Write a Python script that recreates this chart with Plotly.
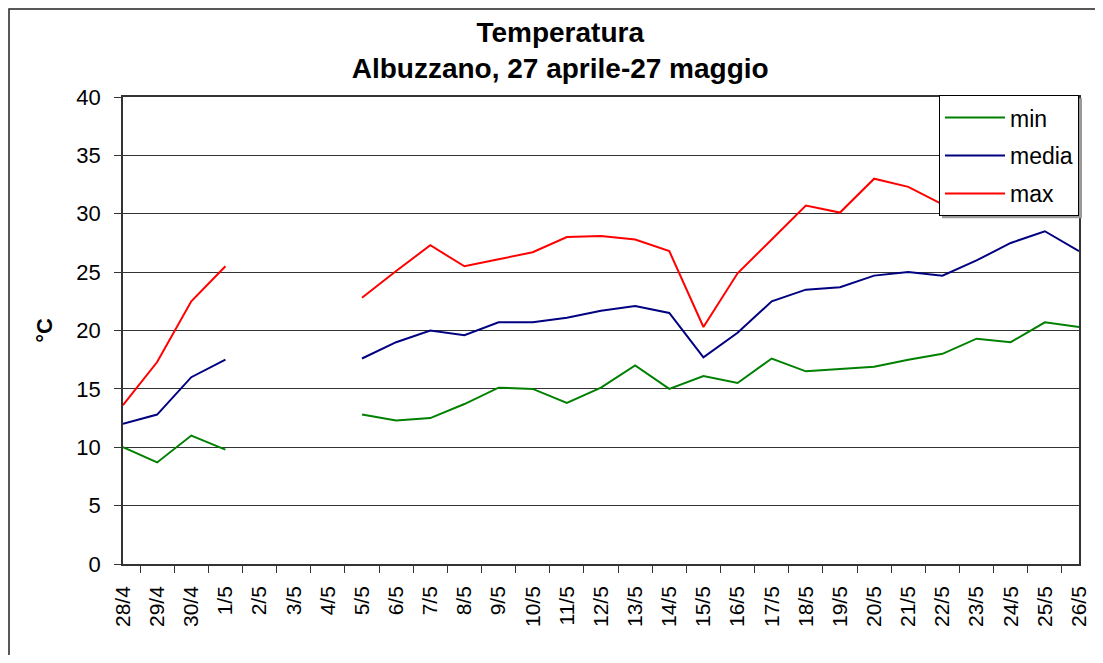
import plotly.graph_objects as go

# Daily temperatures, Albuzzano (°C); 2/5-4/5 missing
giorni = ["28/4", "29/4", "30/4", "1/5", "2/5", "3/5", "4/5", "5/5", "6/5", "7/5",
          "8/5", "9/5", "10/5", "11/5", "12/5", "13/5", "14/5", "15/5", "16/5", "17/5",
          "18/5", "19/5", "20/5", "21/5", "22/5", "23/5", "24/5", "25/5", "26/5"]

t_min = [10.0, 8.7, 11.0, 9.8, None, None, None, 12.8, 12.3, 12.5,
         13.7, 15.1, 15.0, 13.8, 15.1, 17.0, 15.0, 16.1, 15.5, 17.6,
         16.5, 16.7, 16.9, 17.5, 18.0, 19.3, 19.0, 20.7, 20.3]
t_media = [12.0, 12.8, 16.0, 17.5, None, None, None, 17.6, 19.0, 20.0,
           19.6, 20.7, 20.7, 21.1, 21.7, 22.1, 21.5, 17.7, 19.8, 22.5,
           23.5, 23.7, 24.7, 25.0, 24.7, 26.0, 27.5, 28.5, 26.8]
t_max = [13.6, 17.3, 22.5, 25.5, None, None, None, 22.8, 25.1, 27.3,
         25.5, 26.1, 26.7, 28.0, 28.1, 27.8, 26.8, 20.3, 24.9, 27.8,
         30.7, 30.1, 33.0, 32.3, 30.8, 33.3, 34.0, 35.5, 33.0]

FONT = "Liberation Sans, Arial, sans-serif"

# page body has an 8px margin, so the figure is ~1087x647 at (8, 8)
PLOT_W, PLOT_H = 956, 467
M_L, M_T = 115, 89
LEG_TOP = 1.004
LEG_W, LEG_H = 140, 120

fig = go.Figure()
for nome, valori, colore in [("min", t_min, "#008000"),
                             ("media", t_media, "#000080"),
                             ("max", t_max, "#FF0000")]:
    fig.add_trace(go.Scatter(
        x=giorni, y=valori, name=nome, mode="lines",
        line=dict(color=colore, width=2),
        connectgaps=False, legendgroup=nome,
    ))

# outer chart frame
fig.add_shape(type="rect", xref="paper", yref="paper",
              x0=(1 - M_L) / PLOT_W, x1=1.03,
              y0=-0.22, y1=1 + (M_T - 1) / PLOT_H,
              line=dict(color="#222222", width=1.5), layer="below")
# legend drop shadow
fig.add_shape(type="rect", xref="paper", yref="paper",
              x0=1 - (LEG_W - 3) / PLOT_W, x1=1 + 3 / PLOT_W,
              y0=LEG_TOP - (LEG_H + 3) / PLOT_H, y1=LEG_TOP - 3 / PLOT_H,
              line=dict(width=0), fillcolor="#9a9a9a", layer="above")

fig.update_layout(
    autosize=True,
    margin=dict(l=M_L, r=16, t=M_T, b=91, autoexpand=False),
    plot_bgcolor="white", paper_bgcolor="white",
    font=dict(family=FONT, size=22, color="black"),
    title=dict(
        text="<b>Temperatura<br>Albuzzano, 27 aprile-27 maggio</b>",
        font=dict(size=28), x=0.508, xref="container", xanchor="center",
        y=0.948, yref="container", yanchor="middle",
    ),
    legend=dict(
        x=1, xanchor="right", y=LEG_TOP, yanchor="top",
        bgcolor="white", bordercolor="black", borderwidth=1,
        font=dict(size=23), tracegroupgap=5, traceorder="grouped",
        itemwidth=60,
    ),
    showlegend=True,
)

fig.update_xaxes(
    type="category", tickangle=-90, tickson="boundaries",
    ticks="outside", ticklen=7, tickcolor="#333333",
    showline=True, linecolor="#333333", linewidth=1.5, mirror=True,
    showgrid=False, tickfont=dict(size=21), ticklabelstandoff=12,
)
fig.update_yaxes(
    range=[0, 40], dtick=5, ticks="outside", ticklen=7, tickcolor="#333333",
    showline=True, linecolor="#333333", linewidth=1.5, mirror=True,
    showgrid=True, gridcolor="#333333", gridwidth=1, zeroline=False,
    tickfont=dict(size=22), ticklabelstandoff=9,
    title=dict(text="<b>°C</b>", font=dict(size=22), standoff=18),
)

fig.write_html("out.html")
